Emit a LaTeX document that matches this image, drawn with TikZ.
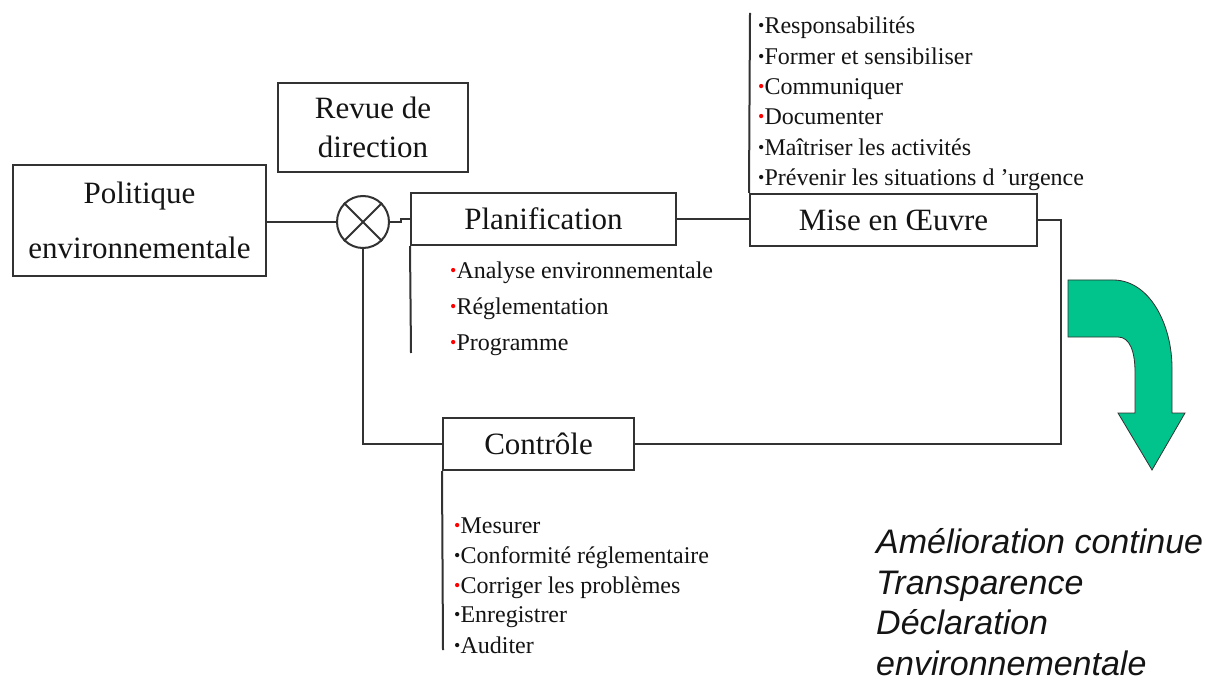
\documentclass[tikz,border=0pt]{standalone}
\usepackage{fontspec}
\setmainfont{Liberation Serif}
\setsansfont{Liberation Sans}
\definecolor{linec}{RGB}{50,50,50}
\definecolor{txt}{RGB}{20,20,20}
\definecolor{arrowgreen}{RGB}{0,196,140}
\newcommand\rbul{{\color{red}\raisebox{2pt}{\fontsize{18}{18}\selectfont\textbullet}}}
\newcommand\kbul{{\color{txt}\raisebox{2pt}{\fontsize{18}{18}\selectfont\textbullet}}}
\begin{document}
\begin{tikzpicture}[x=1pt,y=-1pt,
  box/.style={draw=linec, line width=2pt, fill=white, inner sep=0pt, align=center,
    font=\fontsize{31}{39}\selectfont, text=txt},
  conn/.style={draw=linec, line width=2pt},
  item/.style={anchor=base west, inner sep=0pt, font=\fontsize{24}{24}\selectfont, text=txt},
  big/.style={anchor=base west, inner sep=0pt, font=\sffamily\itshape\fontsize{34}{34}\selectfont, text=txt}]
\useasboundingbox (0,0) rectangle (1206,684);
\clip (0,0) rectangle (1206,684);
\fill[white] (0,0) rectangle (1206,684);

% boxes
\node[box, minimum width=253pt, minimum height=111pt, font=\fontsize{31}{55}\selectfont]
  (pol) at (139.5,220.5) {Politique\\environnementale};
\node[box, minimum width=190pt, minimum height=89pt] (rev) at (373,127.5) {Revue de\\direction};
\node[box, minimum width=265pt, minimum height=52pt] (plan) at (543.5,219) {Planification};
\node[box, minimum width=287pt, minimum height=52pt] (mise) at (893.5,220) {Mise en Œuvre};
\node[box, minimum width=191pt, minimum height=52pt] (ctrl) at (538.5,444) {Contrôle};
\node[draw=linec, line width=2pt, circle, minimum size=52pt, inner sep=0pt] (circ) at (363,222) {};
\draw[conn] (circ.45) -- (circ.225) (circ.135) -- (circ.-45);

% free ends
\coordinate (planend) at (411,353);
\coordinate (misetop) at (750,13);
\coordinate (ctrlend) at (443,650);
\coordinate (rcorner) at (1061,220);

% connectors
\draw[conn] (circ.west -| pol.east) -- (circ.west);
\draw[conn] (circ.east) -- ++(11,0) |- (plan.west);
\draw[conn] (plan.south west) -- (planend);
\draw[conn] (plan.east) -- (plan.east -| mise.west);
\draw[conn] (mise.north west) -- (misetop);
\draw[conn] (mise.east) -- (rcorner) |- (ctrl.east);
\draw[conn] (circ.south) |- (ctrl.west);
\draw[conn] (ctrl.south west) -- (ctrlend);

% Mise en oeuvre items
\node[item] (m1) at (758,34) {\kbul Responsabilités};
\node[item] (m2) at (758,65) {\kbul Former et sensibiliser};
\node[item] (m3) at (758,95) {\rbul Communiquer};
\node[item] (m4) at (758,125) {\rbul Documenter};
\node[item] (m5) at (758,156) {\kbul Maîtriser les activités};
\node[item] (m6) at (758,186) {\kbul Prévenir les situations d ’urgence};

% Planification items
\node[item] (p1) at (450,279) {\rbul Analyse environnementale};
\node[item] (p2) at (450,315) {\rbul Réglementation};
\node[item] (p3) at (450,350) {\rbul Programme};

% Controle items
\node[item] (c1) at (454,533) {\rbul Mesurer};
\node[item] (c2) at (454,563) {\kbul Conformité réglementaire};
\node[item] (c3) at (454,593) {\rbul Corriger les problèmes};
\node[item] (c4) at (454,622) {\kbul Enregistrer};
\node[item] (c5) at (454,653) {\kbul Auditer};

% green arrow
\draw[fill=arrowgreen, draw=linec, line width=0.8pt]
  (1068,280) -- (1113,280) .. controls (1150,280) and (1172,325) .. (1172,368)
  -- (1172,413) -- (1185,413) -- (1152,470) -- (1118,413) -- (1135,413)
  -- (1135,372) .. controls (1135,352) and (1130,337) .. (1118,337)
  -- (1068,337) -- cycle;

% result text
\node[big] (r1) at (876,553) {Amélioration continue};
\node[big] (r2) at (876,594) {Transparence};
\node[big] (r3) at (876,634) {Déclaration};
\node[big] (r4) at (876,675) {environnementale};
\end{tikzpicture}
\end{document}
